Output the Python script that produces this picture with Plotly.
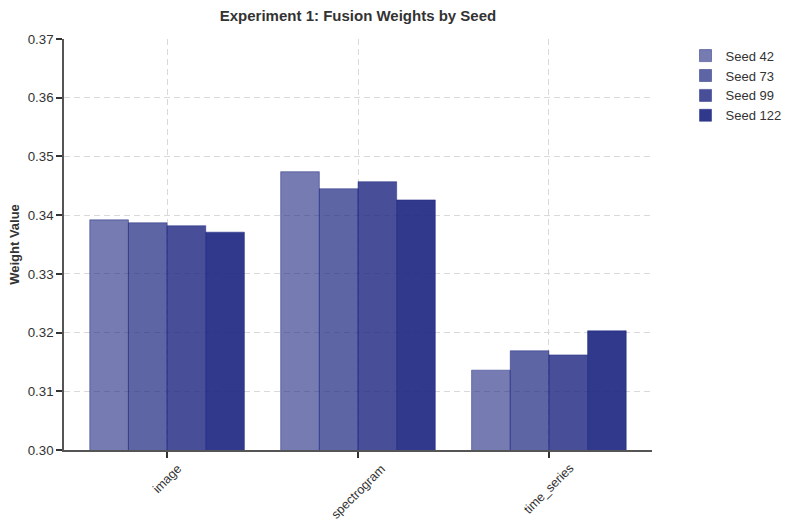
import plotly.graph_objects as go

categories = ["image", "spectrogram", "time_series"]
seed_names = ["Seed 42", "Seed 73", "Seed 99", "Seed 122"]
seed42 = [0.3392, 0.3474, 0.3136]
seed73 = [0.3387, 0.3445, 0.3169]
seed99 = [0.3382, 0.3457, 0.3162]
seed122 = [0.3371, 0.3426, 0.3203]
series = [seed42, seed73, seed99, seed122]
opacities = [0.6, 0.7, 0.8, 0.9]

fig = go.Figure()
for name, vals, a in zip(seed_names, series, opacities):
    fig.add_trace(go.Bar(
        x=categories, y=vals, name=name,
        marker=dict(color=f"rgba(26,35,126,{a})",
                    line=dict(color="rgba(26,35,126,0.8)", width=0.6)),
    ))

axis_common = dict(
    showline=True, linecolor="#555555", linewidth=1.5,
    ticks="outside", ticklen=6, tickwidth=1.5, tickcolor="#333333",
    showgrid=True, gridcolor="#d9d9d9", griddash="6px,4px", gridwidth=1.3,
    tickfont=dict(size=13.3, color="#333333"), zeroline=False, automargin=False,
)

# category labels: rotated and centred under each tick
for cat in categories:
    fig.add_annotation(x=cat, xref="x", y=0, yref="paper", text=cat, showarrow=False,
                       textangle=-45, xanchor="center", yanchor="top", yshift=-9,
                       font=dict(size=12.6, color="#333333"))

fig.update_layout(
    width=787, height=521,
    paper_bgcolor="white", plot_bgcolor="white",
    font=dict(family="Liberation Sans, Arial, sans-serif", color="#333333"),
    title=dict(text="<b>Experiment 1: Fusion Weights by Seed</b>", xref="paper", x=0.5, xanchor="center",
               yref="container", y=0.98, yanchor="top", font=dict(size=15, color="#333333")),
    margin=dict(l=64, r=135, t=39, b=71, autoexpand=False),
    barmode="group", bargap=0.19, bargroupgap=0.0,
    legend=dict(x=1.057, y=0.996, xanchor="left", yanchor="top",
                font=dict(size=13, color="#333333"), bgcolor="rgba(0,0,0,0)",
                itemwidth=30, tracegroupgap=0),
    xaxis=dict(axis_common, showticklabels=False, range=[-0.54, 2.54]),
    yaxis=dict(axis_common, range=[0.30, 0.37], dtick=0.01, tickformat=".2f",
               title=dict(text="<b>Weight Value</b>", font=dict(size=13, color="#333333"), standoff=5)),
)

fig.write_html("out.html", config={"displayModeBar": False},
               post_script="document.body.style.margin='0';document.body.style.overflow='hidden';")
